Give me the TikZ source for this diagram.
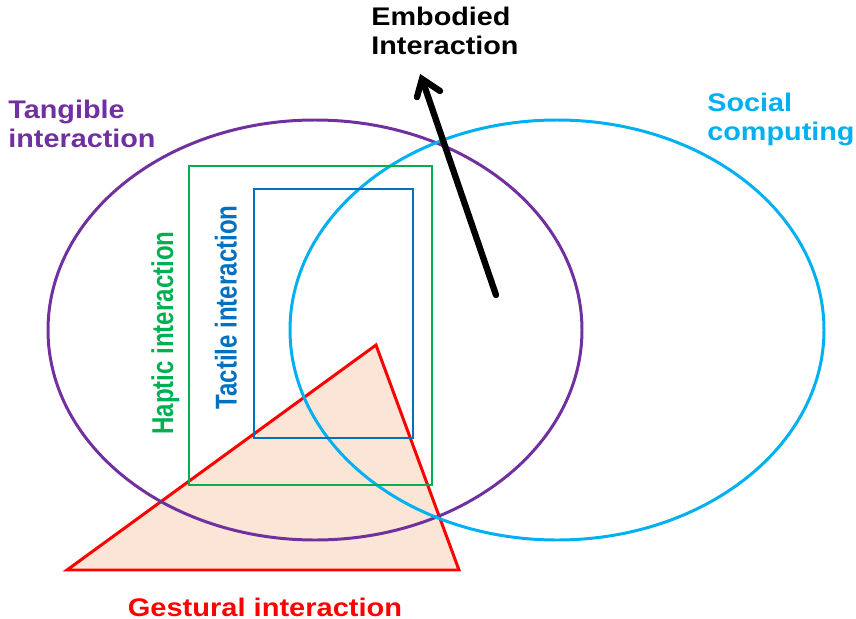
\documentclass[tikz,border=0pt]{standalone}
\usepackage{fontspec}
\setmainfont{Liberation Sans}

\definecolor{tangpurple}{HTML}{7030A0}
\definecolor{socialcyan}{HTML}{00B0F0}
\definecolor{hapticgreen}{HTML}{00B050}
\definecolor{tactileblue}{HTML}{0070C0}
\definecolor{gestred}{HTML}{FF0000}
\definecolor{gestfill}{HTML}{FBE5D6}

\begin{document}
\begin{tikzpicture}[x=0.02cm, y=-0.02cm,
  outline/.style={line width=1.7pt},
  pointer/.style={line width=3.6pt, line cap=round},
  hlabel/.style={inner sep=0pt, align=left, font=\fontsize{14.5}{16.4}\selectfont\bfseries},
  vlabel/.style={inner sep=0pt, rotate=90, font=\fontsize{13.7}{16}\selectfont\bfseries}]

\useasboundingbox (0,0) rectangle (856,619);

% --- Gestural interaction (triangle) ---
\coordinate (G1) at (67,570);
\coordinate (G2) at (459,570);
\coordinate (G3) at (376,345);
\draw[outline, gestred, fill=gestfill] (G1) -- (G2) -- (G3) -- cycle;

% --- Tangible and social ellipses ---
\coordinate (T) at (315,330);
\coordinate (S) at (557,330);
\draw[outline, tangpurple] (T) ellipse [x radius=267, y radius=210];
\draw[outline, socialcyan] (S) ellipse [x radius=267, y radius=210];

% --- Haptic / tactile boxes ---
\draw[outline, hapticgreen] (189,166) rectangle (432,485);
\draw[outline, tactileblue] (254,189) rectangle (413,438);

% --- Embodied arrow ---
\coordinate (tail) at (496,295);
\coordinate (tip) at (422,79);
\coordinate (wingL) at (417,97);
\coordinate (wingR) at (440,91);
\draw[pointer] (tail) -- (tip);
\draw[pointer, line join=miter] (wingL) -- (tip) -- (wingR);

% Labels
\node[hlabel, xscale=1.13, anchor=north west] (embodied) at (371,7) {Embodied\\Interaction};
\node[hlabel, xscale=1.13, anchor=north west, tangpurple] (tangible) at (8,100) {Tangible\\interaction};
\node[hlabel, xscale=1.13, anchor=north west, socialcyan] (social) at (707,93) {Social\\computing};
\node[vlabel, anchor=base, hapticgreen] (haptic) at (173,333) {\scalebox{1}[1.25]{Haptic interaction}};
\node[vlabel, anchor=base, tactileblue] (tactile) at (236.5,307.5) {\scalebox{1}[1.25]{Tactile interaction}};
\node[hlabel, xscale=1.14, anchor=base, gestred] (gestural) at (265,616) {Gestural interaction};

\end{tikzpicture}
\end{document}
